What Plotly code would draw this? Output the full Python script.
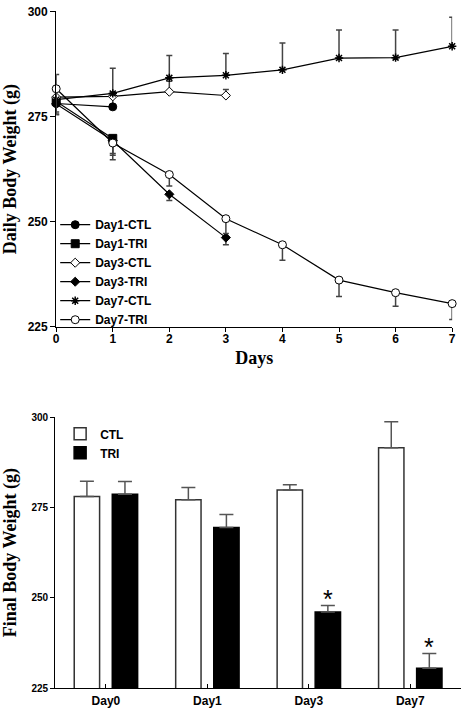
import plotly.graph_objects as go

# ---------------- Top chart data ----------------
days = [0, 1, 2, 3, 4, 5, 6, 7]

d1_ctl = [278.1, 277.3]
d1_ctl_err = [3.0, 3.4]
d1_tri = [278.6, 269.8]
d1_tri_err = [3.0, 3.6]

d3_ctl = [279.6, 279.8, 280.9, 280.0]
d3_ctl_err = [2.5, 1.0, 2.5, 1.4]
d3_tri = [278.0, 269.3, 256.5, 246.2]
d3_tri_err = [2.6, 3.5, 1.5, 1.7]

d7_ctl = [279.0, 280.5, 284.2, 284.8, 286.1, 288.9, 289.0, 291.7]
d7_ctl_err = [6.0, 6.0, 5.3, 5.2, 6.4, 6.7, 6.6, 6.9]
d7_tri = [281.6, 268.7, 261.2, 250.7, 244.5, 236.1, 233.1, 230.5]
d7_tri_err = [5.5, 4.0, 2.7, 3.5, 3.7, 3.9, 3.2, 3.8]

# ---------------- Bottom chart data ----------------
groups = ["Day0", "Day1", "Day3", "Day7"]
ctl_final = [278.1, 277.2, 279.9, 291.6]
ctl_final_err = [4.2, 3.4, 1.4, 7.2]
tri_final = [278.7, 269.5, 246.1, 230.5]
tri_final_err = [3.5, 3.6, 1.8, 4.1]
significant = [False, False, True, True]

BOLD_SANS = "Liberation Sans"
SERIF = "Liberation Serif"

fig = go.Figure()

def add_series(name, x, y, err, up, symbol, fill, size=8):
    zeros = [0] * len(err)
    fig.add_trace(go.Scatter(
        x=x, y=y, name=name, mode="lines+markers", cliponaxis=False,
        line=dict(color="black", width=1.2),
        marker=dict(symbol=symbol, size=size, color=fill,
                    line=dict(color="black", width=1)),
        error_y=dict(type="data", symmetric=False,
                     array=err if up else zeros,
                     arrayminus=zeros if up else err,
                     color="#444", thickness=1.5, width=3),
        xaxis="x", yaxis="y", legend="legend",
    ))

add_series("Day1-CTL", days[:2], d1_ctl, d1_ctl_err, True, "circle", "black")
add_series("Day1-TRI", days[:2], d1_tri, d1_tri_err, False, "square", "black", 8)
add_series("Day3-CTL", days[:4], d3_ctl, d3_ctl_err, True, "diamond", "white", 7)
add_series("Day3-TRI", days[:4], d3_tri, d3_tri_err, False, "diamond", "black", 7)
fig.add_trace(go.Scatter(
    x=days, y=d7_ctl, name="Day7-CTL", mode="lines+markers", cliponaxis=False,
    line=dict(color="black", width=1.2),
    marker=dict(symbol="asterisk", size=7, color="black",
                line=dict(color="black", width=1.5)),
    error_y=dict(type="data", symmetric=False, array=d7_ctl_err,
                 arrayminus=[0] * len(d7_ctl_err),
                 color="#444", thickness=1.5, width=3),
    xaxis="x", yaxis="y", legend="legend",
))
add_series("Day7-TRI", days, d7_tri, d7_tri_err, False, "circle", "white")

# ---------------- Bottom bars ----------------
gx = list(range(len(groups)))
fig.add_trace(go.Bar(
    x=gx, y=ctl_final, name="CTL", width=0.25, offset=-0.3125,
    marker=dict(color="white", line=dict(color="#333", width=1.5)),
    error_y=dict(type="data", symmetric=False, array=ctl_final_err,
                 arrayminus=[0] * 4, color="#555", thickness=1.5, width=7),
    xaxis="x2", yaxis="y2", legend="legend2",
))
fig.add_trace(go.Bar(
    x=gx, y=tri_final, name="TRI", width=0.25, offset=0.0625,
    marker=dict(color="black", line=dict(color="black", width=1.5)),
    error_y=dict(type="data", symmetric=False, array=tri_final_err,
                 arrayminus=[0] * 4, color="#555", thickness=1.5, width=7),
    xaxis="x2", yaxis="y2", legend="legend2",
))

annotations = []
for i, s in enumerate(significant):
    if s:
        annotations.append(dict(
            x=i + 0.1875, y=tri_final[i] + tri_final_err[i], xref="x2", yref="y2",
            text="*", showarrow=False, yanchor="bottom", yshift=-10,
            font=dict(family=BOLD_SANS, size=25, color="black"),
        ))

W, H = 466, 714
tick_font = dict(family=BOLD_SANS, size=12, color="black", weight="bold")
title_font = dict(family=SERIF, size=18, color="black", weight="bold")

fig.update_layout(
    width=W, height=H,
    margin=dict(l=0, r=0, t=0, b=0),
    paper_bgcolor="white", plot_bgcolor="white",
    barmode="overlay",
    annotations=annotations,
    xaxis=dict(domain=[54 / W, 456 / W], range=[0, 7], anchor="y",
               tickvals=days, ticks="outside", ticklen=4, tickwidth=1,
               tickcolor="black", showline=True, linecolor="black",
               linewidth=1.2, showgrid=False, zeroline=False,
               tickfont=tick_font, ticklabelstandoff=-3,
               ticklabeloverflow="allow",
               title=dict(text="Days", font=title_font, standoff=6)),
    yaxis=dict(domain=[1 - 326.7 / H, 1 - 5.5 / H], range=[225, 300],
               anchor="x", tickvals=[225, 250, 275, 300], ticks="outside",
               ticklen=5, tickwidth=1, tickcolor="black", showline=True,
               linecolor="black", linewidth=1.2, showgrid=False,
               zeroline=False, tickfont=tick_font,
               title=dict(text="Daily Body Weight (g)", font=title_font,
                          standoff=8)),
    xaxis2=dict(domain=[53 / W, 465 / W], range=[-0.5, 3.5], anchor="y2",
                tickvals=gx, ticktext=groups, ticks="inside", ticklen=4,
                tickcolor="black", showline=True, linecolor="black",
                linewidth=1.2, showgrid=False, zeroline=False,
                ticklabelstandoff=1, ticklabeloverflow="allow",
                tickfont=dict(family=BOLD_SANS, size=12, color="black",
                              weight="bold")),
    yaxis2=dict(domain=[1 - 694.7 / H, 1 - 419 / H], range=[225, 300],
                anchor="x2", tickvals=[225, 250, 275, 300], ticks="outside",
                ticklen=4, tickcolor="black", showline=True,
                linecolor="black", linewidth=1.2, showgrid=False,
                zeroline=False,
                tickfont=dict(family=BOLD_SANS, size=10, color="black",
                              weight="bold"),
                title=dict(text="Final Body Weight (g)", font=title_font,
                           standoff=10)),
    legend=dict(x=53 / W, y=1 - 208 / H, xanchor="left", yanchor="top",
                bgcolor="rgba(0,0,0,0)", itemwidth=30, tracegroupgap=0,
                font=dict(family=BOLD_SANS, size=12, color="black",
                          weight="bold")),
    legend2=dict(x=58 / W, y=1 - 421 / H, xanchor="left", yanchor="top",
                 bgcolor="rgba(0,0,0,0)", itemwidth=30,
                 font=dict(family=BOLD_SANS, size=12, color="black",
                           weight="bold")),
)

fig.write_html("out.html", config={"displayModeBar": False},
               post_script="document.body.style.margin='0px';")
